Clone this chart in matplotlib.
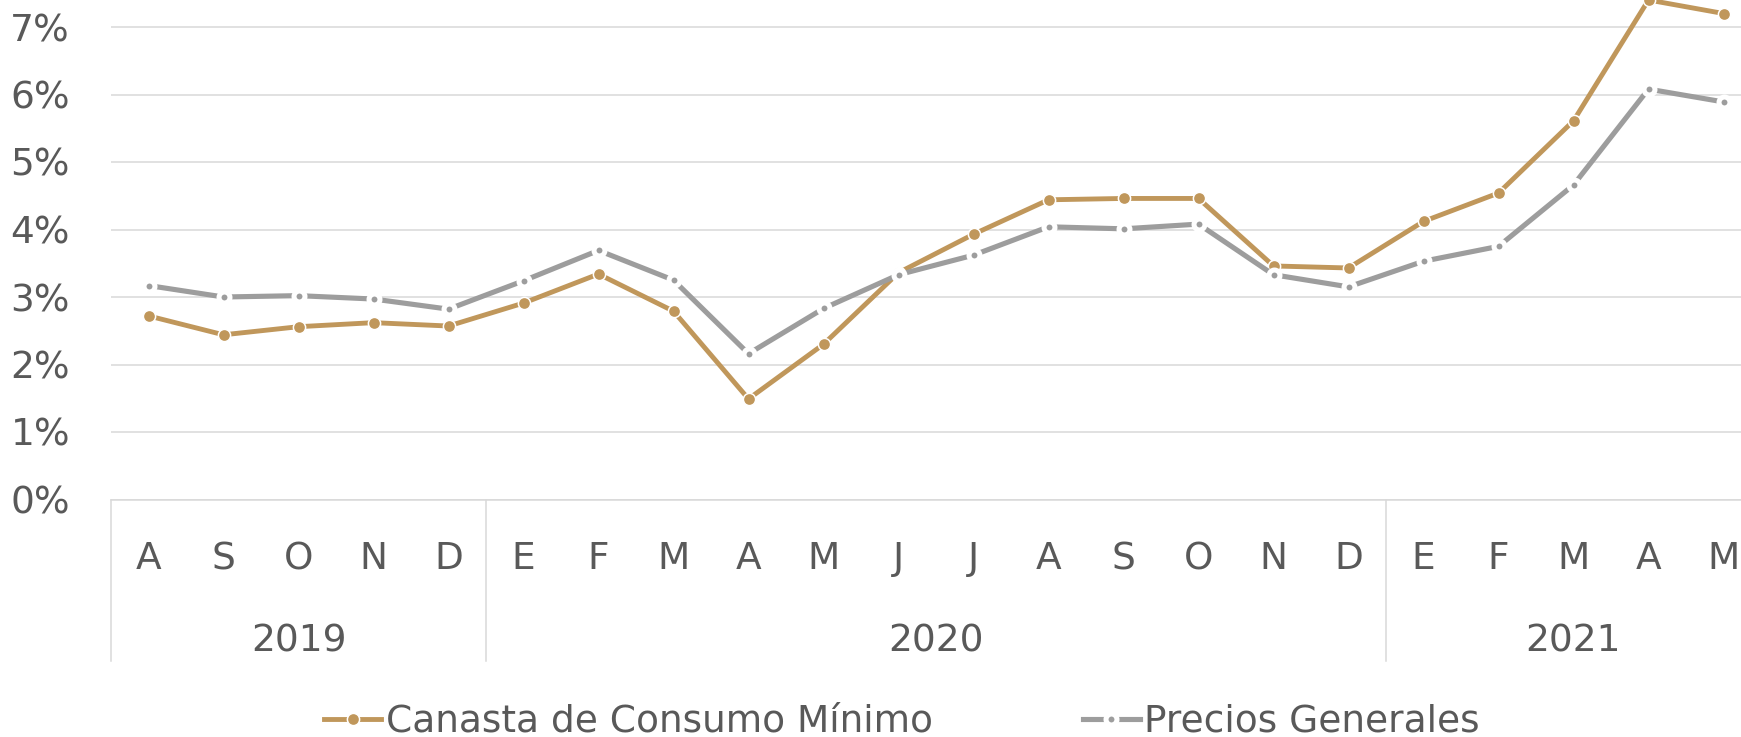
import matplotlib
matplotlib.use('Agg')
import matplotlib.pyplot as plt

# data (percent)
months = ['A', 'S', 'O', 'N', 'D',
          'E', 'F', 'M', 'A', 'M', 'J', 'J', 'A', 'S', 'O', 'N', 'D',
          'E', 'F', 'M', 'A', 'M']
years = ['2019', '2020', '2021']
year_counts = [5, 12, 5]
canasta = [2.72, 2.44, 2.56, 2.62, 2.57,
           2.91, 3.34, 2.79, 1.49, 2.30, 3.36, 3.93, 4.44, 4.46, 4.46, 3.46, 3.43,
           4.12, 4.54, 5.61, 7.40, 7.20]
precios = [3.17, 3.00, 3.02, 2.97, 2.82,
           3.24, 3.69, 3.25, 2.16, 2.83, 3.33, 3.62, 4.04, 4.01, 4.08, 3.33, 3.15,
           3.53, 3.75, 4.66, 6.08, 5.89]
yticks = [0, 1, 2, 3, 4, 5, 6, 7]

GOLD = '#C0975B'
GRAY = '#9D9D9D'
TXT = '#595959'
GRID = '#D9D9D9'
FS = 27

plt.rcParams['font.family'] = ['DejaVu Sans']

W, H = 1741, 737
fig = plt.figure(figsize=(W / 100, H / 100), dpi=100)
ax_h = 540.0
ax_bot = 499.5
ax = fig.add_axes([111 / W, (H - ax_bot) / H, 1650 / W, ax_h / H])


def yfrac(ypix):
    # pixel row (from top) -> axes fraction
    return (ax_bot - ypix) / ax_h


x = list(range(len(months)))
ax.plot(x, canasta, color=GOLD, lw=3.5, marker='o', ms=8.8,
        mfc=GOLD, mec='white', mew=1.1, label='Canasta de Consumo Mínimo', zorder=3)
ax.plot(x, precios, color=GRAY, lw=3.7, marker='o', ms=7.9,
        mfc=GRAY, mec='white', mew=3.6, label='Precios Generales', zorder=4)

ax.set_xlim(-0.5, len(months) - 0.5)
ax.set_ylim(0, 8)
ax.set_yticks(yticks)
ax.set_yticklabels([f'{v}%' for v in yticks])
ax.tick_params(axis='y', length=0, pad=29.5, labelsize=FS, labelcolor=TXT)
ax.set_xticks([])
ax.grid(axis='y', color=GRID, lw=1.1)
ax.set_axisbelow(True)
for s in ['top', 'right', 'left']:
    ax.spines[s].set_visible(False)
ax.spines['bottom'].set_color(GRID)
ax.spines['bottom'].set_linewidth(1.1)

tr = ax.get_xaxis_transform()
for i, m in enumerate(months):
    ax.text(i, yfrac(569.3), m, transform=tr, ha='center', va='baseline',
            fontsize=FS, color=TXT)

start = -0.5
for yr, n in zip(years, year_counts):
    ax.plot([start, start], [0, yfrac(661)], transform=tr, color=GRID, lw=1.1,
            clip_on=False)
    ax.text(start + n / 2, yfrac(651.7), yr, transform=tr, ha='center',
            va='baseline', fontsize=FS, color=TXT)
    start += n
ax.plot([start, start], [0, yfrac(661)], transform=tr, color=GRID, lw=1.1,
        clip_on=False)

leg = ax.legend(loc='center', bbox_to_anchor=(902 / W, 1 - 722 / H),
                bbox_transform=fig.transFigure, ncol=2, frameon=False,
                fontsize=FS, handlelength=1.52, handletextpad=0.12,
                columnspacing=4.0, borderpad=0, numpoints=1)
for t in leg.get_texts():
    t.set_color(TXT)

fig.savefig('out.png', dpi=100)
